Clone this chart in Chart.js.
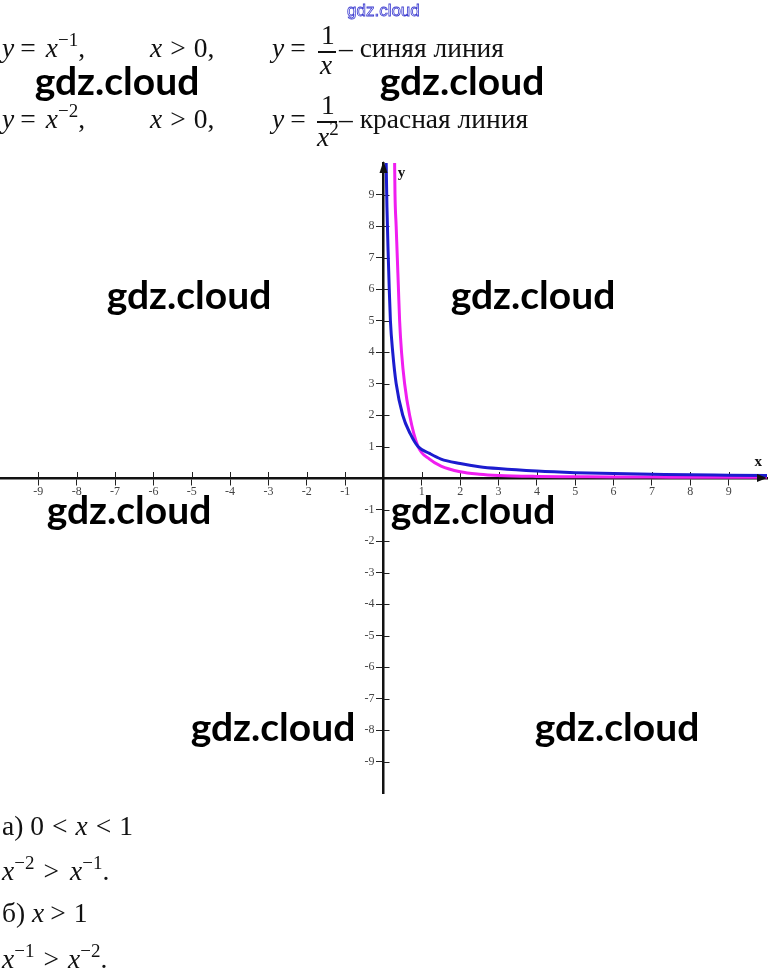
<!DOCTYPE html>
<html>
<head>
<meta charset="utf-8">
<script src="https://cdn.jsdelivr.net/npm/chart.js"></script>
<style>
  html, body { margin: 0; padding: 0; background: #fff; }
  #page { position: relative; width: 768px; height: 971px; overflow: hidden;
          font-family: "Liberation Serif", "Times New Roman", serif; color: #111; }
  #graph { position: absolute; left: 0; top: 0; }
  .t { position: absolute; font-size: 27.5px; line-height: 30px; white-space: nowrap; }
  .t sup { font-size: 19px; line-height: 0; vertical-align: 11px; }
  .t .op { margin: 0 8px; }
  .t .eq { margin: 0 10px 0 6px; }
  .bar { position: absolute; height: 1.5px; background: #111; }
  .wm { position: absolute; font-family: Lato, sans-serif; font-weight: 700; font-size: 39px;
        line-height: 1; transform: translate(-50%, -50%); color: #000; white-space: nowrap; }
  .stamp { position: absolute; left: 347px; top: 1px; font-family: "Liberation Sans", Arial, sans-serif;
           font-size: 17px; color: #fff; -webkit-text-stroke: 0.8px #3a3ad0; }
</style>
</head>
<body>
<div id="page">
  <canvas id="graph" width="768" height="971"></canvas>

  <div class="stamp">gdz.cloud</div>

  <!-- y = 1/x -->
  <div class="t" style="left:2px; top:33px"><i>y</i><span class="eq">=</span><i>x</i><sup>−1</sup>,</div>
  <div class="t" style="left:150px; top:33px"><i>x</i><span class="op">&gt;</span>0,</div>
  <div class="t" style="left:272px; top:33px"><i>y</i><span class="eq">=</span></div>
  <div class="t" style="left:321px; top:20px">1</div>
  <div class="bar" style="left:318px; top:51px; width:18px"></div>
  <div class="t" style="left:320px; top:50px"><i>x</i></div>
  <div class="t" style="left:339px; top:33px">– синяя линия</div>

  <!-- y = 1/x^2 -->
  <div class="t" style="left:2px; top:104px"><i>y</i><span class="eq">=</span><i>x</i><sup>−2</sup>,</div>
  <div class="t" style="left:150px; top:104px"><i>x</i><span class="op">&gt;</span>0,</div>
  <div class="t" style="left:272px; top:104px"><i>y</i><span class="eq">=</span></div>
  <div class="t" style="left:321px; top:90px">1</div>
  <div class="bar" style="left:317px; top:121px; width:20px"></div>
  <div class="t" style="left:317px; top:122px"><i>x</i><sup>2</sup></div>
  <div class="t" style="left:339px; top:104px">– красная линия</div>

  <!-- answers -->
  <div class="t" style="left:2px; top:811px">а) 0<span class="op">&lt;</span><i>x</i><span class="op">&lt;</span>1</div>
  <div class="t" style="left:2px; top:856px"><i>x</i><sup>−2</sup><span class="op" style="margin:0 11px 0 9px">&gt;</span><i>x</i><sup>−1</sup>.</div>
  <div class="t" style="left:2px; top:898px">б) <i>x</i><span class="op" style="margin:0 8px 0 6px">&gt;</span>1</div>
  <div class="t" style="left:2px; top:944px"><i>x</i><sup>−1</sup><span class="op" style="margin:0 9px">&gt;</span><i>x</i><sup>−2</sup>.</div>

  <div class="wm" style="left:117px; top:80px">gdz.cloud</div>
  <div class="wm" style="left:462px; top:80px">gdz.cloud</div>
  <div class="wm" style="left:189px; top:294px">gdz.cloud</div>
  <div class="wm" style="left:533px; top:294px">gdz.cloud</div>
  <div class="wm" style="left:129px; top:509px">gdz.cloud</div>
  <div class="wm" style="left:473px; top:509px">gdz.cloud</div>
  <div class="wm" style="left:273px; top:726px">gdz.cloud</div>
  <div class="wm" style="left:617px; top:726px">gdz.cloud</div>
</div>

<script>
// y = 1/x (blue)
const blueX = [0.07, 0.09, 0.12, 0.15, 0.18, 0.24, 0.33, 0.5, 0.7, 0.9, 1.2, 1.5, 2, 2.5, 3, 4, 5, 6, 7, 8, 9, 10];
const blueY = [10, 8.6, 7.2, 6, 5, 4, 3, 2, 1.4, 1.0, 0.78, 0.6, 0.46, 0.36, 0.3, 0.22, 0.17, 0.14, 0.12, 0.1, 0.09, 0.08];

// y = 1/x^2 (magenta)
const pinkX = [0.29, 0.3, 0.33, 0.36, 0.39, 0.42, 0.47, 0.55, 0.68, 0.9, 1.2, 1.5, 2, 2.5, 3, 4, 5, 6, 7, 8, 9, 10];
const pinkY = [10, 9, 8, 7, 6, 5, 4, 3, 2, 1.0, 0.6, 0.38, 0.2, 0.12, 0.08, 0.05, 0.04, 0.03, 0.03, 0.02, 0.02, 0.02];

// axis ticks (no 0, no ends)
const xTickValues = [-9, -8, -7, -6, -5, -4, -3, -2, -1, 1, 2, 3, 4, 5, 6, 7, 8, 9];
const yTickValues = [-9, -8, -7, -6, -5, -4, -3, -2, -1, 1, 2, 3, 4, 5, 6, 7, 8, 9];
const axisMin = -10;
const axisMax = 10;

const toPoints = (xs, ys) => xs.map((x, i) => ({x: x, y: ys[i]}));

const tickFont = {family: "'Liberation Serif', serif", size: 12};
const TICK = 6;

// other half of each tick mark, y labels, arrows and axis letters
const axisExtras = {
    id: 'axisExtras',
    beforeDatasetsDraw(chart) {
        const {ctx, scales: {x, y}} = chart;
        const x0 = x.getPixelForValue(0);
        const y0 = y.getPixelForValue(0);
        ctx.save();
        ctx.strokeStyle = '#222';
        ctx.lineWidth = 1;
        ctx.beginPath();
        xTickValues.forEach(v => {
            const px = Math.round(x.getPixelForValue(v)) + 0.5;
            ctx.moveTo(px, y0);
            ctx.lineTo(px, y0 - TICK);
        });
        yTickValues.forEach(v => {
            const py = Math.round(y.getPixelForValue(v)) + 0.5;
            ctx.moveTo(x0, py);
            ctx.lineTo(x0 + TICK, py);
        });
        ctx.stroke();
        // y labels, left of the axis
        ctx.fillStyle = '#444';
        ctx.font = "12px 'Liberation Serif', serif";
        ctx.textAlign = 'right';
        ctx.textBaseline = 'middle';
        y.ticks.forEach(t => {
            ctx.fillText(String(t.value), x0 - TICK - 3, y.getPixelForValue(t.value));
        });
        ctx.restore();
    },
    afterDraw(chart) {
        const {ctx, chartArea, scales: {x, y}} = chart;
        const x0 = x.getPixelForValue(0);
        const y0 = y.getPixelForValue(0);
        ctx.save();
        ctx.fillStyle = '#111';
        // x arrow
        ctx.beginPath();
        ctx.moveTo(chartArea.right, y0);
        ctx.lineTo(chartArea.right - 10, y0 - 4);
        ctx.lineTo(chartArea.right - 10, y0 + 4);
        ctx.closePath();
        ctx.fill();
        // y arrow
        ctx.beginPath();
        ctx.moveTo(x0, chartArea.top - 2);
        ctx.lineTo(x0 - 4, chartArea.top + 10);
        ctx.lineTo(x0 + 4, chartArea.top + 10);
        ctx.closePath();
        ctx.fill();
        ctx.font = "bold 15px 'Liberation Serif', serif";
        ctx.textAlign = 'center';
        ctx.textBaseline = 'alphabetic';
        ctx.fillText('x', x.getPixelForValue(9.77), y0 - 12);
        ctx.fillText('y', x.getPixelForValue(0.47), y.getPixelForValue(9.55));
        ctx.restore();
    }
};

const cGraph = document.getElementById('graph');
const graph = new Chart(cGraph, {
    type: 'scatter',
    data: {
        datasets: [{
                label: 'y = 1/x',
                data: toPoints(blueX, blueY),
                showLine: true,
                borderColor: '#1c1ccf',
                borderWidth: 3,
                pointRadius: 0,
                cubicInterpolationMode: 'monotone',
            },
            {
                label: 'y = 1/x²',
                data: toPoints(pinkX, pinkY),
                showLine: true,
                borderColor: '#f01ef0',
                borderWidth: 3,
                pointRadius: 0,
                cubicInterpolationMode: 'monotone',
            },
        ]
    },
    options: {
        responsive: false,
        animation: false,
        events: [],
        layout: {
            padding: {left: 0, right: 1, top: 163, bottom: 178}
        },
        plugins: {
            legend: {display: false},
            tooltip: {enabled: false}
        },
        scales: {
            x: {
                type: 'linear',
                min: axisMin,
                max: axisMax,
                position: {y: 0},
                afterBuildTicks: s => { s.ticks = xTickValues.map(v => ({value: v})); },
                grid: {drawOnChartArea: false, tickLength: TICK, color: '#222', lineWidth: 1},
                border: {display: true, color: '#111', width: 2.5},
                ticks: {
                    autoSkip: false,
                    maxRotation: 0,
                    padding: 1,
                    color: '#444',
                    font: tickFont,
                    callback: v => String(v)
                }
            },
            y: {
                type: 'linear',
                min: axisMin,
                max: axisMax,
                position: {x: 0},
                afterBuildTicks: s => { s.ticks = yTickValues.map(v => ({value: v})); },
                grid: {drawOnChartArea: false, tickLength: TICK, color: '#222', lineWidth: 1},
                border: {display: true, color: '#111', width: 2.5},
                ticks: {
                    display: false,
                    autoSkip: false,
                    font: tickFont
                }
            }
        }
    },
    plugins: [axisExtras]
});
</script>
</body>
</html>
